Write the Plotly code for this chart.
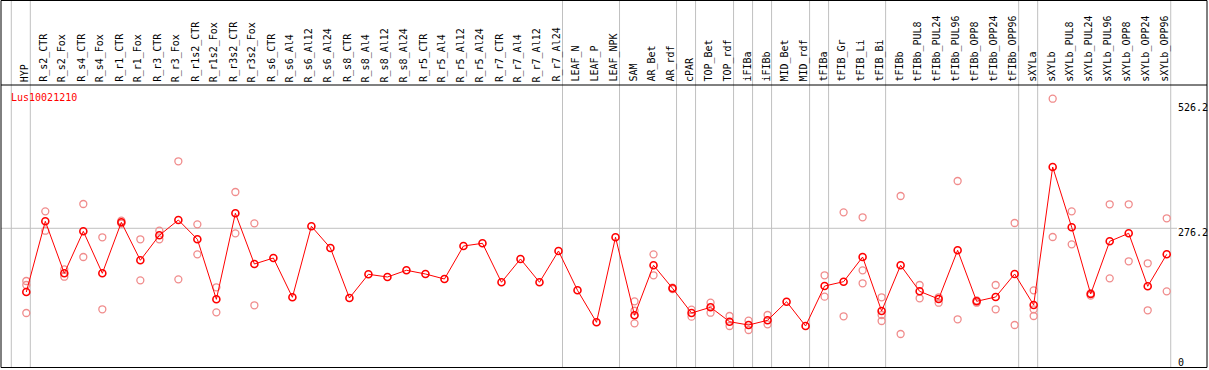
import plotly.graph_objects as go

title = "Lus10021210"

categories = [
    "HYP", "R_s2_CTR", "R_s2_Fox", "R_s4_CTR", "R_s4_Fox", "R_r1_CTR", "R_r1_Fox",
    "R_r3_CTR", "R_r3_Fox", "R_r1s2_CTR", "R_r1s2_Fox", "R_r3s2_CTR", "R_r3s2_Fox",
    "R_s6_CTR", "R_s6_Al4", "R_s6_Al12", "R_s6_Al24", "R_s8_CTR", "R_s8_Al4",
    "R_s8_Al12", "R_s8_Al24", "R_r5_CTR", "R_r5_Al4", "R_r5_Al12", "R_r5_Al24",
    "R_r7_CTR", "R_r7_Al4", "R_r7_Al12", "R_r7_Al24", "LEAF_N", "LEAF_P", "LEAF_NPK",
    "SAM", "AR_Bet", "AR_rdf", "cPAR", "TOP_Bet", "TOP_rdf", "iFIBa", "iFIBb",
    "MID_Bet", "MID_rdf", "tFIBa", "tFIB_Gr", "tFIB_Li", "tFIB_Bi", "tFIBb",
    "tFIBb_PUL8", "tFIBb_PUL24", "tFIBb_PUL96", "tFIBb_OPP8", "tFIBb_OPP24",
    "tFIBb_OPP96", "sXYLa", "sXYLb", "sXYLb_PUL8", "sXYLb_PUL24", "sXYLb_PUL96",
    "sXYLb_OPP8", "sXYLb_OPP24", "sXYLb_OPP96",
]

# number of categories in each separated group
group_sizes = [1, 28, 3, 3, 1, 2, 1, 1, 2, 1, 3, 7, 1, 7]

means = [
    149.3, 290.1, 186.6, 270.2, 186.6, 288.1, 212.5, 262.2, 292.7, 254.3, 134.8,
    306.1, 205.1, 217.0, 138.8, 280.2, 237.0, 137.4, 184.6, 179.2, 192.6, 185.2,
    175.2, 240.9, 246.3, 168.7, 215.1, 168.7, 231.0, 152.7, 89.0, 258.3, 102.9,
    202.5, 156.7, 107.5, 118.9, 90.2, 83.6, 93.0, 130.0, 81.6, 161.3, 169.9,
    219.0, 111.5, 202.5, 150.7, 135.4, 232.4, 130.8, 139.4, 185.2, 123.5, 398.2,
    278.2, 145.4, 250.3, 266.2, 160.7, 224.4,
]

replicates = [
    [171.2, 163.3, 107.5], [310.0, 271.4], [194.5, 179.8], [324.6, 219.0],
    [258.3, 114.9], [291.3, 285.7], [254.3, 172.6], [271.4, 254.3],
    [409.6, 174.6], [284.1, 224.4], [158.7, 108.9], [348.5, 266.2],
    [286.1, 122.9], [], [], [], [], [], [], [], [], [], [], [], [], [], [], [], [],
    [], [], [],
    [130.8, 112.0, 87.0], [224.4, 182.6], [158.0, 155.0], [114.1, 100.2],
    [128.0, 108.1], [101.6, 81.6], [92.2, 73.7], [103.5, 85.0], [], [],
    [182.6, 140.0], [308.0, 101.0], [298.1, 192.5, 166.7], [138.8, 103.5, 91.6],
    [340.5, 65.7], [163.3, 136.8], [138.8, 128.0], [370.4, 95.0], [132.8, 128.0],
    [163.3, 114.9], [286.7, 83.6], [152.7, 114.9, 101.6], [534.2, 258.9],
    [310.0, 244.3], [147.0, 142.0], [324.0, 176.6], [324.0, 210.5],
    [206.5, 112.9], [296.1, 150.7],
]

axis_labels = [526.2, 276.2, 0]

# ---------------- layout geometry ----------------
W, H = 1209, 370
L, R, T, B = 1, 2, 85, 2
plot_h = H - T - B
px_per_cat = 19.007
first_px = 26.3
x_lo = (L - first_px) / px_per_cat
x_hi = (W - R - first_px) / px_per_cat
px_per_val = 0.5022
zero_px = 367
y_lo = -(H - B - zero_px) / px_per_val
y_hi = (zero_px - T) / px_per_val


def paper_y(py):
    return (H - B - py) / plot_h


def paper_x(px):
    return (px - L) / (W - L - R)


idx = list(range(len(categories)))
rep_x, rep_y = [], []
for i, vals in enumerate(replicates):
    for v in vals:
        rep_x.append(i)
        rep_y.append(v)

fig = go.Figure()
fig.add_trace(go.Scatter(
    x=rep_x, y=rep_y, mode="markers",
    marker=dict(symbol="circle-open", size=7, color="#f08c8c", line=dict(width=1.3)),
    hoverinfo="skip", showlegend=False, cliponaxis=False,
))
fig.add_trace(go.Scatter(
    x=idx, y=means, mode="lines+markers",
    line=dict(color="#ff0000", width=1),
    marker=dict(symbol="circle-open", size=7, color="#ff0000", line=dict(width=1.6)),
    text=categories, showlegend=False, cliponaxis=False,
))

shapes = []
gray = "#c0c0c0"
# group separators
bounds = [-1]
acc = -1
for g in group_sizes:
    acc += g
    bounds.append(acc)
off = 4 / px_per_cat
for b in bounds:
    shapes.append(dict(type="line", xref="x", yref="paper", x0=b + off, x1=b + off,
                       y0=0, y1=paper_y(0), line=dict(color=gray, width=1), layer="below"))
# horizontal reference line
shapes.append(dict(type="line", xref="paper", yref="y", x0=0, x1=paper_x(1177),
                   y0=axis_labels[1], y1=axis_labels[1],
                   line=dict(color=gray, width=1), layer="below"))
# frame and header separator
shapes.append(dict(type="rect", xref="paper", yref="paper", x0=0, x1=1,
                   y0=paper_y(367.5), y1=paper_y(0.5), line=dict(color="black", width=1)))
shapes.append(dict(type="line", xref="paper", yref="paper", x0=0, x1=1,
                   y0=1, y1=1, line=dict(color="black", width=1)))

font = "DejaVu Sans Mono, monospace"
annotations = []
for i, c in enumerate(categories):
    annotations.append(dict(
        x=i, xref="x", y=paper_y(84), yref="paper", text=c, textangle=-90,
        showarrow=False, xanchor="center", yanchor="bottom", xshift=-2,
        font=dict(family=font, size=10, color="black"),
    ))
annotations.append(dict(
    x=paper_x(9), xref="paper", y=paper_y(97.5), yref="paper", text=title,
    showarrow=False, xanchor="left", yanchor="middle",
    font=dict(family=font, size=10, color="#ff0000"),
))
for v in axis_labels:
    annotations.append(dict(
        x=paper_x(1176), xref="paper", y=v, yref="y", text=str(v) if v else "0",
        showarrow=False, xanchor="left", yanchor="bottom" if v == 0 else "top",
        yshift=-3 if v == 0 else 3,
        font=dict(family=font, size=10, color="black"),
    ))

fig.update_layout(
    width=W, height=H,
    margin=dict(l=L, r=R, t=T, b=B, pad=0),
    paper_bgcolor="white", plot_bgcolor="white",
    xaxis=dict(range=[x_lo, x_hi], visible=False, fixedrange=True),
    yaxis=dict(range=[y_lo, y_hi], visible=False, fixedrange=True),
    shapes=shapes, annotations=annotations,
)

fig.write_html(
    "out.html",
    config={"displayModeBar": False},
    post_script="document.body.style.margin='0';document.body.style.padding='0';",
)
